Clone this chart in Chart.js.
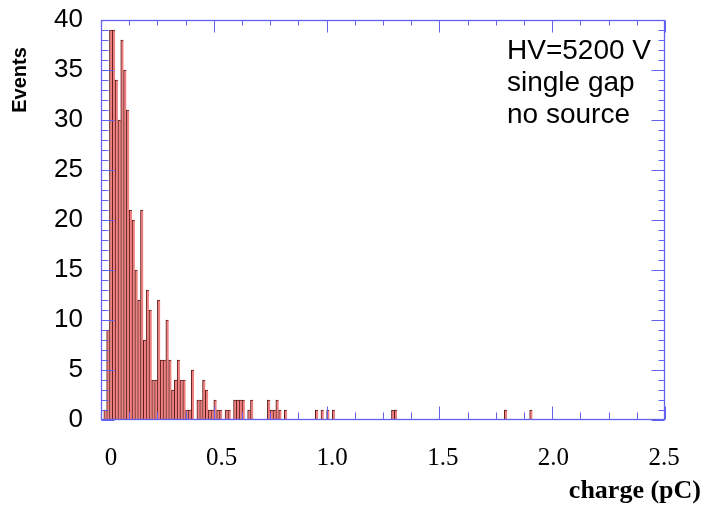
<!DOCTYPE html>
<html>
<head>
<meta charset="utf-8">
<script src="https://cdn.jsdelivr.net/npm/chart.js@4/dist/chart.umd.min.js"></script>
<style>
html,body{margin:0;padding:0;background:#ffffff;}
#wrap{width:726px;height:510px;position:relative;}
</style>
</head>
<body>
<div id="wrap"><canvas id="c" width="726" height="510"></canvas></div>
<script>
// ---- data ----
const binWidth = 0.0125; // pC per bin
// counts of the first 66 bins, starting at 0 pC
const headCounts = [0,1,9,39,39,34,30,38,35,31,21,20,15,12,21,8,13,11,4,4,12,6,6,10,6,3,4,6,4,4,1,1,5,0,2,2,4,3,1,1,2,1,1,0,1,1,0,2,2,2,2,0,1,2,0,0,0,0,0,2,1,1,2,1,0,1];
// isolated tail bins (lower edge in pC) and their counts
const tailBinEdges = [0.95, 0.975, 1.0, 1.025, 1.2875, 1.3, 1.7875, 1.9];
const tailCounts   = [1, 1, 1, 1, 1, 1, 1, 1];
// axis ticks / labels
const xTickValues = [0, 0.5, 1.0, 1.5, 2.0, 2.5];
const xTickLabels = ['0', '0.5', '1.0', '1.5', '2.0', '2.5'];
const yTickValues = [0, 5, 10, 15, 20, 25, 30, 35, 40];
const yTickLabels = ['0', '5', '10', '15', '20', '25', '30', '35', '40'];
const xTitle = 'charge (pC)';
const yTitle = 'Events';
const annotationLines = ['HV=5200 V', 'single gap', 'no source'];

// ---- build histogram points (bin centres) ----
const points = [];
headCounts.forEach((c, i) => { if (c > 0) points.push({x: i * binWidth + binWidth / 2, y: c}); });
tailBinEdges.forEach((e, i) => { if (tailCounts[i] > 0) points.push({x: e + binWidth / 2, y: tailCounts[i]}); });

const FRAME = '#6262ee';

const framePlugin = {
  id: 'frame',
  afterDatasetsDraw(chart) {
    const {ctx, chartArea: a, scales} = chart;
    const xs = scales.x, ys = scales.y;
    ctx.save();
    ctx.strokeStyle = FRAME;
    ctx.lineWidth = 1;
    ctx.beginPath();
    const L = Math.round(a.left) + 0.5, R = Math.round(a.right) - 0.5;
    const T = Math.round(a.top) + 0.5, B = Math.round(a.bottom) - 0.5;
    for (let v = 0; v <= 40; v += 1) {
      const py = Math.round(ys.getPixelForValue(v)) + 0.5;
      const major = v % 5 === 0;
      ctx.moveTo(L, py); ctx.lineTo(L + (major ? 13 : 7), py);
      ctx.moveTo(R, py); ctx.lineTo(R - (major ? 13 : 6), py);
    }
    for (let i = 0; i <= 20; i++) {
      const px = Math.round(xs.getPixelForValue(i * 0.125)) + 0.5;
      const major = i % 4 === 0;
      ctx.moveTo(px, B); ctx.lineTo(px, B - (major ? 13 : 7));
      ctx.moveTo(px, T); ctx.lineTo(px, T + (major ? 12 : 5));
    }
    ctx.stroke();
    ctx.lineWidth = 1.3;
    ctx.strokeRect(L, T, R - L, B - T);
    ctx.restore();
  },
  afterDraw(chart) {
    const {ctx} = chart;
    ctx.save();
    ctx.fillStyle = '#000';
    // annotation
    ctx.font = "28px 'Liberation Sans', Arial, sans-serif";
    ctx.textAlign = 'left';
    ctx.textBaseline = 'alphabetic';
    const baseY = [59, 91, 123];
    annotationLines.forEach((t, i) => ctx.fillText(t, 507, baseY[i]));
    // x title
    ctx.font = "bold 26px 'Liberation Serif', 'Times New Roman', serif";
    ctx.textAlign = 'right';
    ctx.fillText(xTitle, 701, 498);
    // y title
    ctx.translate(20, 80);
    ctx.rotate(-Math.PI / 2);
    ctx.font = "bold 20px 'Liberation Sans', Arial, sans-serif";
    ctx.textAlign = 'center';
    ctx.textBaseline = 'middle';
    ctx.fillText(yTitle, 0, 0);
    ctx.restore();
  }
};

new Chart(document.getElementById('c'), {
  type: 'bar',
  data: {
    datasets: [{
      data: points,
      backgroundColor: '#ef8181',
      borderColor: '#5a1c1c',
      borderWidth: {top: 1, left: 1, right: 0, bottom: 0},
      borderSkipped: false,
      barPercentage: 1.0,
      categoryPercentage: 1.0,
      xAxisID: 'x',
      yAxisID: 'y'
    }]
  },
  options: {
    responsive: false,
    animation: false,
    devicePixelRatio: 1,
    layout: {padding: {top: 20, right: 61, left: 0, bottom: 0}},
    plugins: {legend: {display: false}, tooltip: {enabled: false}},
    scales: {
      x: {type: 'linear', min: 0, max: 2.5, display: false, offset: false, grid: {offset: false}},
      xl: {
        type: 'linear', position: 'bottom',
        min: -0.0452, max: 2.5045, offset: false,
        grid: {display: false, drawTicks: false, tickLength: 0, offset: false},
        border: {display: false},
        afterBuildTicks: s => { s.ticks = xTickValues.map(v => ({value: v})); },
        afterFit: s => { s.height = 90; s.paddingLeft = 0; s.paddingRight = 0; },
        ticks: {
          autoSkip: false, maxRotation: 0, padding: 23,
          color: '#000',
          font: {family: "'Liberation Serif', 'Times New Roman', serif", size: 25},
          callback: (v, i) => xTickLabels[i]
        }
      },
      y: {
        type: 'linear', position: 'left', min: 0, max: 40,
        grid: {display: false, drawTicks: false, tickLength: 0},
        border: {display: false},
        afterBuildTicks: s => { s.ticks = yTickValues.map(v => ({value: v})); },
        afterFit: s => { s.width = 101; s.paddingTop = 0; s.paddingBottom = 0; },
        ticks: {
          autoSkip: false, padding: 18,
          color: '#000',
          font: {family: "'Liberation Sans', Arial, sans-serif", size: 26},
          callback: (v, i) => yTickLabels[i]
        }
      }
    }
  },
  plugins: [framePlugin]
});
</script>
</body>
</html>
